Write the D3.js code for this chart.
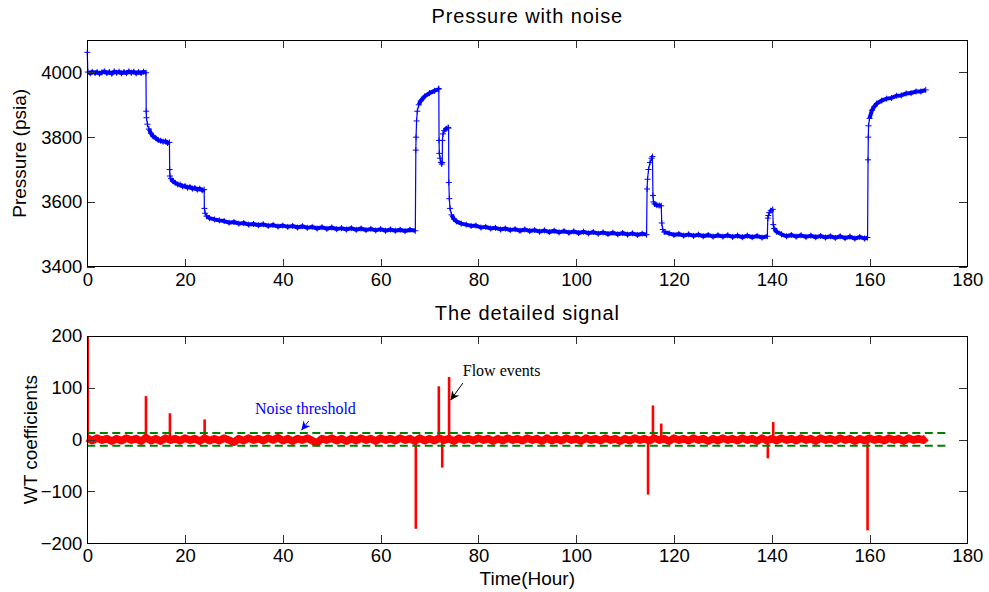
<!DOCTYPE html>
<html>
<head>
<meta charset="utf-8">
<script src="https://cdn.jsdelivr.net/npm/d3@7"></script>
<style>
body { margin: 0; background: #fff; }
text { font-family: "Liberation Sans", Arial, sans-serif; }
</style>
</head>
<body>
<svg id="chart" width="989" height="592"></svg>
<script>
// tick labels
var timeTicks = [0, 20, 40, 60, 80, 100, 120, 140, 160, 180];
var pressTicks = [3400, 3600, 3800, 4000];
var wtTicks = [-200, -100, 0, 100, 200];

// pressure record [hour, psia]
var pressure = [
  [0, 4062], [0.1, 4001], [0.6, 3997], [1, 4002], [1.6, 3998], [2, 4001], [2.5, 3996], [3, 4000],
  [3.5, 4003], [4, 3998], [4.5, 4001], [5, 3996], [5.5, 4003], [6, 3999], [6.5, 4002], [7, 3997],
  [7.5, 4001], [8, 3998], [8.5, 4003], [9, 3999], [9.5, 4002], [10, 3997], [10.5, 4001],
  [11, 3998], [11.5, 4002], [12, 3999],
  [12.05, 3880], [12.1, 3860], [12.3, 3840], [12.6, 3825], [13, 3812], [13.5, 3802], [14, 3797],
  [14.5, 3791], [15, 3789], [15.5, 3786], [16, 3787], [16.4, 3782], [16.8, 3784],
  [16.85, 3700], [16.9, 3680], [17.1, 3672], [17.5, 3664], [18, 3659], [18.5, 3654], [19, 3653],
  [19.5, 3648], [20, 3649], [20.5, 3644], [21, 3646], [21.5, 3641], [22, 3643], [22.5, 3638],
  [23, 3641], [23.5, 3636], [23.9, 3638],
  [23.95, 3580], [24.1, 3565], [24.4, 3556], [25, 3550], [26, 3546], [27, 3543], [28, 3541],
  [29, 3536], [30, 3538], [31, 3533], [32, 3535], [33, 3530], [34, 3532], [35, 3528], [36, 3531],
  [37, 3526], [38, 3529], [39, 3524], [40, 3527], [41, 3523], [42, 3526], [43, 3521], [44, 3525],
  [45, 3520], [46, 3523], [47, 3518], [48, 3522], [49, 3517], [50, 3521], [51, 3516], [52, 3519],
  [53, 3515], [54, 3519], [55, 3514], [56, 3518], [57, 3513], [58, 3517], [59, 3512], [60, 3516],
  [61, 3511], [62, 3515], [63, 3511], [64, 3514], [65, 3510], [66, 3514], [67.1, 3511],
  [67.2, 3760], [67.25, 3800], [67.35, 3850], [67.5, 3880], [67.8, 3900], [68.2, 3912], [69, 3926],
  [70, 3936], [71, 3943], [71.8, 3948], [71.9, 3950],
  [71.95, 3790], [72.0, 3750], [72.15, 3735], [72.35, 3722], [72.5, 3717], [72.6, 3722],
  [72.65, 3790], [72.75, 3810], [73, 3820], [73.4, 3826], [73.8, 3830], [73.9, 3828],
  [73.95, 3660], [74.05, 3610], [74.2, 3580], [74.5, 3560], [75, 3547], [75.5, 3540], [76.5, 3533],
  [77.5, 3530], [78.5, 3526], [79.5, 3527], [80.5, 3521], [81.5, 3523], [82.5, 3518], [83.5, 3520],
  [84.5, 3515], [85.5, 3518], [86.5, 3513], [87.5, 3516], [88.5, 3511], [89.5, 3515], [90.5, 3510],
  [91.5, 3513], [92.5, 3508], [93.5, 3512], [94.5, 3507], [95.5, 3511], [96.5, 3506], [97.5, 3510],
  [98.5, 3505], [99.5, 3509], [100.5, 3504], [101.5, 3508], [102.5, 3503], [103.5, 3507],
  [104.5, 3502], [105.5, 3506], [106.5, 3501], [107.5, 3505], [108.5, 3500], [109.5, 3504],
  [110.5, 3499], [111.5, 3503], [112.5, 3498], [113.5, 3502], [114.4, 3499],
  [114.5, 3640], [114.6, 3670], [114.8, 3700], [115.1, 3722], [115.4, 3735], [115.6, 3740],
  [115.7, 3620], [115.8, 3600], [116, 3594], [116.5, 3590], [117, 3589], [117.4, 3588],
  [117.5, 3535], [117.7, 3515], [118, 3507], [119, 3503], [120, 3498], [121, 3501], [122, 3496],
  [123, 3500], [124, 3495], [125, 3499], [126, 3494], [127, 3498], [128, 3493], [129, 3497],
  [130, 3493], [131, 3497], [132, 3492], [133, 3496], [134, 3491], [135, 3496], [136, 3491],
  [137, 3495], [138, 3490], [139.1, 3494],
  [139.2, 3550], [139.3, 3558], [139.5, 3567], [139.8, 3573], [140.2, 3577],
  [140.3, 3530], [140.5, 3518], [141, 3508], [142, 3500], [143, 3494], [144, 3498], [145, 3493],
  [146, 3497], [147, 3492], [148, 3496], [149, 3491], [150, 3495], [151, 3490], [152, 3494],
  [153, 3489], [154, 3494], [155, 3488], [156, 3493], [157, 3487], [158, 3492], [159, 3487],
  [159.6, 3490],
  [159.7, 3730], [159.75, 3800], [159.8, 3835], [160, 3858], [160.5, 3883], [161, 3895],
  [161.5, 3904], [162.5, 3913], [163.5, 3919], [164.5, 3921], [165.5, 3928], [166.5, 3929],
  [167.5, 3935], [168.5, 3936], [169.5, 3941], [170.5, 3941], [171.5, 3946]
];

// wavelet coefficients: the small background wiggle [hour, value]
var wtNoise = [
  [0, 3], [1, -2], [2, 3], [3, -1], [4, 2], [5, -3], [6, 2], [7, -2], [8, 3], [9, -1], [10, 2],
  [11, -3], [12, 4], [13, -2], [14, 2], [15, -3], [16, 3], [17, -1], [18, 2], [19, -2], [20, 3],
  [21, -1], [22, 2], [23, -3], [24, 3], [25, -2], [26, 2], [27, -2], [28, 3], [29, -1], [30, -5],
  [31, 2], [32, -2], [33, 3], [34, -1], [35, 2], [36, -2], [37, 3], [38, -1], [39, 4], [40, -2],
  [41, 2], [42, -3], [43, 2], [44, -1], [45, 3], [46, -2], [47, -6], [48, 2], [49, -1], [50, 3],
  [51, -2], [52, 2], [53, -3], [54, 2], [55, -2], [56, 3], [57, -1], [58, 2], [59, -3], [60, 3],
  [61, -1], [62, 2], [63, -2], [64, 3], [65, -1], [66, 2], [67, -3], [68, 3], [69, -2], [70, 2],
  [71, -2], [72, 3], [73, -1], [74, 2], [75, -3], [76, 3], [77, -1], [78, 2], [79, -2], [80, 3],
  [81, -1], [82, 2], [83, -3], [84, 2], [85, -2], [86, 3], [87, -1], [88, 2], [89, -2], [90, 3],
  [91, -1], [92, 2], [93, -3], [94, 3], [95, -2], [96, 2], [97, -2], [98, 3], [99, -1], [100, 2],
  [101, -3], [102, 3], [103, -1], [104, 2], [105, -2], [106, 3], [107, -1], [108, 2], [109, -3],
  [110, 2], [111, -2], [112, 3], [113, -1], [114, 2], [115, -2], [116, 3], [117, -1], [118, 2],
  [119, -3], [120, 3], [121, -1], [122, 2], [123, -2], [124, 3], [125, -1], [126, 2], [127, -3],
  [128, 2], [129, -2], [130, 3], [131, -1], [132, 2], [133, -2], [134, 3], [135, -1], [136, 2],
  [137, -3], [138, 3], [139, -2], [140, 2], [141, -2], [142, 3], [143, -1], [144, 2], [145, -2],
  [146, 3], [147, -1], [148, 2], [149, -3], [150, 3], [151, -1], [152, 2], [153, -2], [154, 3],
  [155, -1], [156, 2], [157, -3], [158, 2], [159, -2], [160, 3], [161, -1], [162, 2], [163, -2],
  [164, 3], [165, -1], [166, 2], [167, -3], [168, 3], [169, -1], [170, 2], [171, -1], [171.6, 4]
];

// wavelet coefficient spikes at the flow events [hour, value]
var wtSpikes = [
  [0.15, 200], [12.0, 84], [16.9, 51], [24.0, 39], [67.2, -172], [71.9, 103], [72.6, -54],
  [74.0, 121], [114.7, -106], [115.7, 66], [117.4, 31], [139.2, -36], [140.3, 34], [159.6, -175]
];

var threshHi = 13;
var threshLo = -12;
var threshSpan = [0, 176];

var notes = [
  { text: "Noise threshold", color: "#0000ff", at: [34.3, 49], from: [45.3, 36], to: [43.8, 18] },
  { text: "Flow events", color: "#000000", at: [76.8, 123], from: [76.8, 109], to: [74.3, 76] }
];

var svg = d3.select("#chart");
var L = 87.3, R = 967.3;

var x = d3.scaleLinear().domain([0, 180]).range([L, R]);
var yP = d3.scaleLinear().domain([3400, 4100]).range([266.7, 40]);
var yW = d3.scaleLinear().domain([-200, 200]).range([543.3, 336]);

function frame(y, yTicks) {
  var top = y.range()[1], bot = y.range()[0];
  var g = svg.append("g");
  var tickCol = "#333";

  g.append("g").attr("transform", "translate(0," + bot + ")")
    .call(d3.axisBottom(x).tickValues(timeTicks).tickSizeInner(-8).tickSizeOuter(0).tickPadding(6)
      .tickFormat(d3.format("d")));
  g.append("g").attr("transform", "translate(0," + top + ")")
    .call(d3.axisTop(x).tickValues(timeTicks).tickSizeInner(-8).tickSizeOuter(0).tickFormat(""));
  g.append("g").attr("transform", "translate(" + L + ",0)")
    .call(d3.axisLeft(y).tickValues(yTicks).tickSizeInner(-8).tickSizeOuter(0).tickPadding(5)
      .tickFormat(d3.format("d")));
  g.append("g").attr("transform", "translate(" + R + ",0)")
    .call(d3.axisRight(y).tickValues(yTicks).tickSizeInner(-8).tickSizeOuter(0).tickFormat(""));

  g.selectAll(".domain").remove();
  g.selectAll(".tick line").attr("stroke", tickCol).attr("shape-rendering", "crispEdges");
  g.selectAll(".tick text").attr("font-size", "18.5px").attr("fill", "#000")
    .style("font-family", "'Liberation Sans', Arial, sans-serif");

  g.append("rect").attr("x", L).attr("y", top).attr("width", R - L).attr("height", bot - top)
    .attr("fill", "none").attr("stroke", "#000").attr("stroke-width", 1)
    .attr("shape-rendering", "crispEdges");
  return g;
}

// ---------- top panel ----------
var gP = svg.append("g");
var lineP = d3.line().x(function (d) { return x(d[0]); }).y(function (d) { return yP(d[1]); });

gP.append("path").datum(pressure).attr("d", lineP)
  .attr("fill", "none").attr("stroke", "#0000ff").attr("stroke-width", 1.2);

// thick (noisy) parts: everything except the near-vertical jumps
var runs = [], cur = [pressure[0]];
for (var i = 1; i < pressure.length; i++) {
  if (Math.abs(x(pressure[i][0]) - x(pressure[i - 1][0])) < 1.5) {
    if (cur.length > 1) runs.push(cur);
    cur = [pressure[i]];
  } else {
    cur.push(pressure[i]);
  }
}
if (cur.length > 1) runs.push(cur);

gP.selectAll("path.run").data(runs).enter().append("path").attr("class", "run")
  .attr("d", lineP).attr("fill", "none").attr("stroke", "#0000ff")
  .attr("stroke-width", 4).attr("stroke-linejoin", "round");

gP.selectAll("path.mk").data(pressure).enter().append("path").attr("class", "mk")
  .attr("d", function (d) {
    var cx = x(d[0]), cy = yP(d[1]);
    return "M" + (cx - 3) + "," + cy + "H" + (cx + 3) + "M" + cx + "," + (cy - 3) + "V" + (cy + 3);
  })
  .attr("stroke", "#0000ff").attr("stroke-width", 1);

frame(yP, pressTicks);

// ---------- bottom panel ----------
var gW = svg.append("g");
var lineW = d3.line().x(function (d) { return x(d[0]); }).y(function (d) { return yW(d[1]); });

gW.selectAll("line.spike").data(wtSpikes).enter().append("line").attr("class", "spike")
  .attr("x1", function (d) { return x(d[0]); }).attr("x2", function (d) { return x(d[0]); })
  .attr("y1", yW(0)).attr("y2", function (d) { return yW(d[1]); })
  .attr("stroke", "#ff0000").attr("stroke-width", function (d, i) { return i === 0 ? 2 : 2.6; });

gW.append("path").datum(wtNoise).attr("d", lineW)
  .attr("fill", "none").attr("stroke", "#ff0000").attr("stroke-width", 7.5)
  .attr("stroke-linejoin", "round");

[threshHi, threshLo].forEach(function (v) {
  gW.append("line")
    .attr("x1", x(threshSpan[0])).attr("x2", x(threshSpan[1]))
    .attr("y1", yW(v)).attr("y2", yW(v))
    .attr("stroke", "#008000").attr("stroke-width", 2).attr("stroke-dasharray", "8,4.5");
});

frame(yW, wtTicks);

// annotations
var defs = svg.append("defs");
notes.forEach(function (n, i) {
  defs.append("marker").attr("id", "ah" + i).attr("viewBox", "0 0 10 10")
    .attr("refX", 10).attr("refY", 5).attr("markerWidth", 9).attr("markerHeight", 9)
    .attr("markerUnits", "userSpaceOnUse").attr("orient", "auto")
    .append("path").attr("d", "M0,0 L10,5 L0,10 L3,5 Z").attr("fill", n.color);
  svg.append("line")
    .attr("x1", x(n.from[0])).attr("y1", yW(n.from[1]))
    .attr("x2", x(n.to[0])).attr("y2", yW(n.to[1]))
    .attr("stroke", n.color).attr("stroke-width", 1).attr("marker-end", "url(#ah" + i + ")");
  svg.append("text").attr("x", x(n.at[0])).attr("y", yW(n.at[1]))
    .attr("fill", n.color).attr("font-size", "16px")
    .style("font-family", "'Liberation Serif', 'Times New Roman', serif")
    .text(n.text);
});

// titles and axis labels
svg.append("text").attr("x", (L + R) / 2).attr("y", 23).attr("text-anchor", "middle")
  .attr("font-size", "20px").attr("letter-spacing", "0.9px").text("Pressure with noise");
svg.append("text").attr("x", (L + R) / 2).attr("y", 320).attr("text-anchor", "middle")
  .attr("font-size", "20px").attr("letter-spacing", "0.9px").text("The detailed signal");
svg.append("text").attr("x", (L + R) / 2).attr("y", 585).attr("text-anchor", "middle")
  .attr("font-size", "19px").text("Time(Hour)");
svg.append("text").attr("transform", "translate(25.5," + (40 + 266.7) / 2 + ") rotate(-90)")
  .attr("text-anchor", "middle").attr("font-size", "19px").text("Pressure (psia)");
svg.append("text").attr("transform", "translate(36.5," + (336 + 543.3) / 2 + ") rotate(-90)")
  .attr("text-anchor", "middle").attr("font-size", "19px").text("WT coefficients");
</script>
</body>
</html>
